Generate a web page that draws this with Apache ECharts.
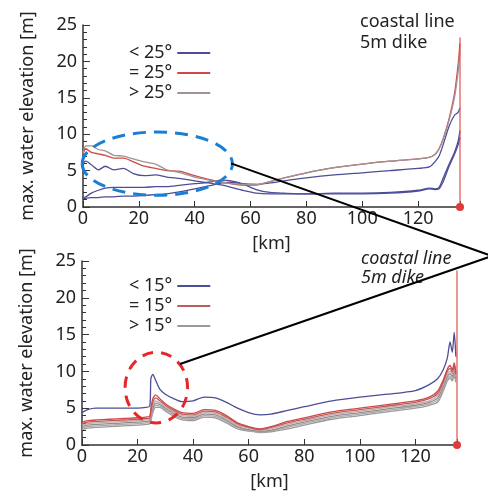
<!DOCTYPE html>
<html>
<head>
<meta charset="utf-8">
<script src="https://cdn.jsdelivr.net/npm/echarts@6.0.0/dist/echarts.min.js"></script>
<style>
  html, body { margin: 0; padding: 0; background: #fff; }
  #chart { width: 488px; height: 494px; }
</style>
</head>
<body>
<div id="chart"></div>
<script>
// ---- upper panel (slope 25°) ----
const kmTop = [0, 1, 3, 5.5, 8, 11, 14.5, 18, 22, 26, 30, 35, 40, 45, 50, 53, 57, 62, 67, 72, 80, 90, 100, 110, 120, 124, 126, 127.5, 129, 131, 133, 134.3, 135];
const topGray = [7.4, 8.4, 8.4, 7.9, 7.7, 7.1, 7.0, 6.6, 6.2, 5.9, 5.1, 4.7, 4.1, 3.7, 3.4, 3.2, 3.1, 3.1, 3.5, 4.0, 4.7, 5.4, 5.9, 6.3, 6.6, 6.8, 7.2, 8.0, 9.3, 11.8, 15.0, 18.5, 21.5];
const topRed = [7.3, 8.0, 7.5, 7.3, 7.1, 6.7, 6.7, 6.2, 5.6, 5.3, 5.0, 4.9, 4.3, 3.8, 3.4, 3.2, 3.0, 3.0, 3.5, 4.0, 4.7, 5.4, 5.9, 6.3, 6.6, 6.8, 7.2, 8.0, 9.4, 12.0, 15.5, 19.5, 22.5];
const topBlueA = [6.0, 6.3, 5.8, 5.1, 5.6, 5.1, 5.3, 4.6, 4.3, 4.4, 4.1, 3.9, 3.6, 3.3, 3.0, 2.7, 2.3, 1.9, 1.8, 1.8, 1.8, 1.9, 1.9, 2.0, 2.3, 2.6, 2.5, 2.7, 4.0, 5.8, 7.5, 9.0, 10.5];
const topBlueB = [1.2, 1.4, 1.9, 2.3, 2.6, 2.7, 2.7, 2.7, 2.7, 2.8, 2.8, 3.0, 3.2, 3.4, 3.7, 3.6, 3.2, 2.4, 2.0, 1.9, 1.8, 1.8, 1.8, 1.9, 2.2, 2.5, 2.4, 2.5, 3.5, 5.5, 7.2, 8.5, 9.6];
const topBlueC = [1.2, 1.2, 1.3, 1.3, 1.4, 1.4, 1.5, 1.5, 1.6, 1.7, 1.8, 2.1, 2.5, 2.9, 3.3, 3.4, 3.2, 3.1, 3.3, 3.6, 4.0, 4.4, 4.7, 5.0, 5.3, 5.5, 6.2, 7.0, 8.6, 11.0, 12.6, 13.0, 13.6];

// ---- lower panel (slope 15°) ----
const kmBot = [0, 2, 5, 10, 15, 20, 23, 24.4, 24.8, 25.5, 26.5, 28, 30, 33, 36, 40, 44, 48, 52, 56, 60, 64, 68, 74, 80, 90, 100, 110, 120, 125, 128, 130, 131.5, 132.5, 133.3, 134, 134.6];
const botBlue = [4.4, 4.8, 5.0, 5.0, 5.0, 5.0, 5.1, 5.3, 9.0, 9.6, 8.8, 7.6, 6.9, 6.3, 5.9, 6.0, 6.5, 6.4, 5.8, 5.0, 4.4, 4.1, 4.2, 4.7, 5.2, 6.0, 6.5, 6.9, 7.4, 8.2, 9.0, 10.2, 11.8, 14.0, 12.6, 15.3, 12.0];
const botRed1 = [3.1, 3.3, 3.4, 3.5, 3.6, 3.7, 3.8, 3.9, 5.0, 6.3, 6.8, 6.3, 5.6, 4.9, 4.4, 4.3, 4.8, 4.7, 4.0, 3.0, 2.5, 2.2, 2.5, 3.2, 3.7, 4.5, 5.0, 5.5, 6.0, 6.5, 7.3, 8.8, 10.3, 10.8, 10.2, 11.2, 9.8];
const botRed2 = [2.9, 3.1, 3.2, 3.3, 3.4, 3.5, 3.6, 3.7, 4.6, 5.8, 6.4, 6.0, 5.4, 4.7, 4.2, 4.1, 4.6, 4.5, 3.8, 2.9, 2.4, 2.1, 2.4, 3.0, 3.5, 4.3, 4.8, 5.3, 5.8, 6.3, 7.0, 8.5, 10.0, 10.4, 9.9, 10.8, 9.6];
const botGray1 = [2.7, 2.9, 3.0, 3.1, 3.2, 3.3, 3.4, 3.5, 4.2, 5.4, 6.0, 5.7, 5.2, 4.5, 4.0, 3.9, 4.4, 4.3, 3.6, 2.7, 2.3, 2.0, 2.2, 2.8, 3.3, 4.1, 4.6, 5.1, 5.6, 6.0, 6.7, 8.2, 9.6, 10.0, 9.6, 10.4, 9.3];
const botGray2 = [2.5, 2.7, 2.8, 2.9, 3.0, 3.1, 3.2, 3.3, 3.9, 5.0, 5.7, 5.5, 5.0, 4.3, 3.8, 3.7, 4.2, 4.1, 3.4, 2.5, 2.1, 1.9, 2.0, 2.6, 3.1, 3.9, 4.4, 4.9, 5.4, 5.8, 6.4, 7.9, 9.3, 9.7, 9.3, 10.0, 9.0];
const botGray3 = [2.3, 2.5, 2.6, 2.7, 2.8, 2.9, 3.0, 3.1, 3.6, 4.7, 5.4, 5.3, 4.8, 4.1, 3.6, 3.5, 4.0, 3.9, 3.2, 2.4, 2.0, 1.8, 1.9, 2.4, 2.9, 3.7, 4.2, 4.7, 5.2, 5.6, 6.1, 7.6, 9.0, 9.4, 9.0, 9.7, 8.8];
const botGray4 = [2.1, 2.3, 2.4, 2.5, 2.6, 2.7, 2.8, 2.9, 3.3, 4.4, 5.1, 5.1, 4.6, 3.9, 3.4, 3.3, 3.8, 3.7, 3.0, 2.2, 1.9, 1.7, 1.8, 2.2, 2.7, 3.5, 4.0, 4.5, 5.0, 5.4, 5.8, 7.3, 8.7, 9.1, 8.7, 9.4, 8.5];

const coastKm = 135;
const coastTop = [23.3, 23.7];
const xTicks = [0, 20, 40, 60, 80, 100, 120];

const FONT = "Noto Sans";
const BLUE = "#4d4d98";
const RED = "#d24848";

const chart = echarts.init(document.getElementById("chart"));

function pairs(xs, ys) {
  return xs.map((x, i) => [x, ys[i]]);
}

function line(name, idx, xs, ys, color, z) {
  return {
    type: "line",
    name: name,
    xAxisIndex: idx,
    yAxisIndex: idx,
    data: pairs(xs, ys),
    symbol: "none",
    smooth: 0.25,
    lineStyle: { color: color, width: 1.3 },
    itemStyle: { color: color },
    z: z || 2,
  };
}

function coastSeries(idx) {
  return {
    type: "line",
    name: "coastal",
    xAxisIndex: idx,
    yAxisIndex: idx,
    clip: false,
    showSymbol: true,
    symbol: "none",
    data: [
      { value: [coastKm, 0], symbol: "circle", symbolSize: 8 },
      { value: [coastKm, coastTop[idx]], symbol: "none" },
    ],
    lineStyle: { color: "#e05050", width: 1.2 },
    itemStyle: { color: "#e03a3a" },
    z: 5,
  };
}

function xAxis(idx) {
  return {
    type: "value",
    gridIndex: idx,
    min: 0,
    max: coastKm,
    interval: 20,
    name: "[km]",
    nameLocation: "middle",
    nameGap: 28,
    nameTextStyle: { fontFamily: FONT, fontSize: 18, color: "#222" },
    axisLine: { lineStyle: { color: "#333", width: 1.5 } },
    axisTick: { inside: true, length: 6, lineStyle: { color: "#333" } },
    axisLabel: {
      margin: 3,
      fontFamily: FONT,
      fontSize: 18,
      color: "#222",
      formatter: (v) => (xTicks.indexOf(v) >= 0 ? String(v) : ""),
    },
    splitLine: { show: false },
  };
}

function yAxis(idx) {
  return {
    type: "value",
    gridIndex: idx,
    min: 0,
    max: 25,
    interval: 5,
    name: "max. water elevation [m]",
    nameLocation: "middle",
    nameGap: 46,
    nameTextStyle: { fontFamily: FONT, fontSize: 18, color: "#222" },
    axisLine: { lineStyle: { color: "#333", width: 1.5 } },
    axisTick: { inside: true, length: 7, lineStyle: { color: "#333" } },
    minorTick: { show: true, splitNumber: 5, length: 4, lineStyle: { color: "#333" } },
    axisLabel: { margin: 6, fontFamily: FONT, fontSize: 18, color: "#222" },
    splitLine: { show: false },
  };
}

function legend(idx, names, top) {
  return {
    orient: "vertical",
    align: "right",
    left: 124,
    top: top,
    data: names,
    icon: "rect",
    itemWidth: 33,
    itemHeight: 2,
    itemGap: 0,
    selectedMode: false,
    textStyle: { fontFamily: FONT, fontSize: 18, color: "#222", lineHeight: 20 },
  };
}

const topNames = ["< 25°", "= 25°", "> 25°"];
const botNames = ["< 15°", "= 15°", "> 15°"];

chart.setOption({
  animation: false,
  backgroundColor: "#fff",
  grid: [
    { left: 83, right: 28, top: 25, height: 182 },
    { left: 82, right: 31, top: 261, height: 184 },
  ],
  xAxis: [xAxis(0), xAxis(1)],
  yAxis: [yAxis(0), yAxis(1)],
  legend: [legend(0, topNames, 38), legend(1, botNames, 271)],
  series: [
    line(topNames[0], 0, kmTop, topBlueA, BLUE),
    line(topNames[0], 0, kmTop, topBlueB, BLUE),
    line(topNames[0], 0, kmTop, topBlueC, BLUE),
    line(topNames[1], 0, kmTop, topRed, RED, 3),
    line(topNames[2], 0, kmTop, topGray, "#9e9494", 4),
    coastSeries(0),
    line(botNames[2], 1, kmBot, botGray4, "#9a9a9a"),
    line(botNames[2], 1, kmBot, botGray3, "#b2a8a8"),
    line(botNames[2], 1, kmBot, botGray2, "#8e8e8e"),
    line(botNames[2], 1, kmBot, botGray1, "#c4a8a8"),
    line(botNames[1], 1, kmBot, botRed2, "#b86060"),
    line(botNames[1], 1, kmBot, botRed1, RED, 3),
    line(botNames[0], 1, kmBot, botBlue, BLUE, 3),
    coastSeries(1),
  ],
});

// annotations: dashed zoom markers and the connector lines
function toPx(idx, km, v) {
  return chart.convertToPixel({ xAxisIndex: idx, yAxisIndex: idx }, [km, v]);
}
const a0 = toPx(0, -0.3, 10.3), a1 = toPx(0, 53.5, 1.6);
const b0 = toPx(1, 15.5, 12.6), b1 = toPx(1, 38, 3.0);
const lineStartTop = toPx(0, 53, 6.0);
const lineStartBot = toPx(1, 35.3, 11);
const meet = [492, 256];

chart.setOption({
  graphic: [
    {
      type: "ellipse",
      shape: { cx: (a0[0] + a1[0]) / 2, cy: (a0[1] + a1[1]) / 2, rx: (a1[0] - a0[0]) / 2, ry: (a1[1] - a0[1]) / 2 },
      style: { fill: null, stroke: "#1a7fd4", lineWidth: 3, lineDash: [13, 8] },
      z: 100,
    },
    {
      type: "ellipse",
      shape: { cx: (b0[0] + b1[0]) / 2, cy: (b0[1] + b1[1]) / 2, rx: (b1[0] - b0[0]) / 2, ry: (b1[1] - b0[1]) / 2 },
      style: { fill: null, stroke: "#e8262a", lineWidth: 3, lineDash: [11, 8] },
      z: 100,
    },
    {
      type: "polyline",
      shape: { points: [lineStartTop, meet, lineStartBot] },
      style: { stroke: "#000", lineWidth: 2, fill: null },
      z: 100,
    },
    {
      type: "text",
      left: 360,
      top: 11,
      style: { text: "coastal line\n5m dike", fontFamily: FONT, fontSize: 18, lineHeight: 21, fill: "#222" },
      z: 90,
    },
    {
      type: "text",
      left: 361,
      top: 249,
      style: { text: "coastal line\n5m dike", fontFamily: FONT, fontSize: 18, fontStyle: "italic", lineHeight: 19, fill: "#222" },
      z: 90,
    },
  ],
});
</script>
</body>
</html>
